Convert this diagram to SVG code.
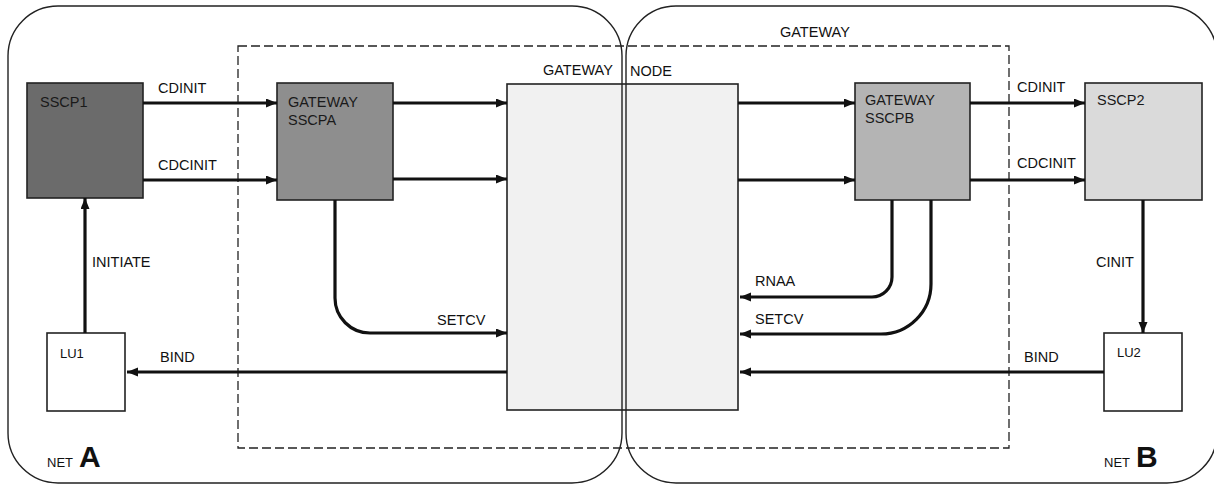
<svg xmlns="http://www.w3.org/2000/svg" width="1214" height="485" viewBox="0 0 1214 485">
<defs>
<style>
text{font-family:"Liberation Sans",Arial,sans-serif;font-size:14.5px;fill:#111}
.lbl{font-size:14.5px}
.inbox{fill:#1a1a1a}
.box{stroke:#222;stroke-width:1.6}
.net{fill:none;stroke:#222;stroke-width:1.4}
.gw{fill:none;stroke:#222;stroke-width:1.3;stroke-dasharray:9 4}
.conn{fill:none;stroke:#111;stroke-width:3.2}
.arr{marker-end:url(#ah)}
</style>
<marker id="ah" markerUnits="userSpaceOnUse" markerWidth="12" markerHeight="10" refX="11" refY="4.5" orient="auto">
<path d="M0,0 L11,4.5 L0,9 z" fill="#111"/>
</marker>
</defs>
<rect width="1214" height="485" fill="#fff"/>

<g id="gateway-frame">
<rect class="gw" x="238" y="46" width="771" height="402"/>
<text x="780" y="37">GATEWAY</text>
</g>

<g id="gateway-node">
<rect class="box" x="507" y="84" width="231" height="326" fill="#f1f1f1"/>
<text x="543" y="75">GATEWAY</text>
<text x="630" y="76">NODE</text>
</g>

<g id="sscp1">
<rect class="box" x="27" y="83" width="116" height="115" fill="#6b6b6b"/>
<text class="inbox" x="40" y="107">SSCP1</text>
</g>
<g id="sscpa">
<rect class="box" x="277" y="83" width="116" height="117" fill="#8e8e8e"/>
<text class="inbox" x="288" y="107">GATEWAY</text>
<text class="inbox" x="288" y="125">SSCPA</text>
</g>
<g id="sscpb">
<rect class="box" x="855" y="83" width="115" height="117" fill="#b4b4b4"/>
<text class="inbox" x="865" y="105">GATEWAY</text>
<text class="inbox" x="865" y="123">SSCPB</text>
</g>
<g id="sscp2">
<rect class="box" x="1085" y="83" width="117" height="117" fill="#dadada"/>
<text class="inbox" x="1097" y="105">SSCP2</text>
</g>
<g id="lu1">
<rect class="box" x="47" y="333" width="78" height="78" fill="#fff"/>
<text x="60" y="358" style="font-size:13px">LU1</text>
</g>
<g id="lu2">
<rect class="box" x="1104" y="333" width="78" height="78" fill="#fff"/>
<text x="1117" y="357" style="font-size:13px">LU2</text>
</g>

<g id="net-a">
<rect class="net" x="8" y="6" width="614" height="477" rx="50" ry="50"/>
<text x="47" y="467" style="font-size:13px">NET</text>
<text x="79" y="467" style="font-size:30px;font-weight:bold">A</text>
</g>
<g id="net-b">
<rect class="net" x="626" y="6" width="591" height="477" rx="50" ry="50"/>
<text x="1104" y="467" style="font-size:13px">NET</text>
<text x="1136" y="467" style="font-size:30px;font-weight:bold">B</text>
</g>

<g id="connectors">
<path class="conn arr" d="M143,103 H277"/>
<path class="conn arr" d="M143,180 H277"/>
<path class="conn arr" d="M393,103 H507"/>
<path class="conn arr" d="M393,179 H507"/>
<path class="conn arr" d="M738,103 H855"/>
<path class="conn arr" d="M738,180 H855"/>
<path class="conn arr" d="M970,103 H1085"/>
<path class="conn arr" d="M970,180 H1085"/>
<path class="conn arr" d="M85,333 V198"/>
<path class="conn arr" d="M1143,200 V333"/>
<path class="conn arr" d="M507,372 H127"/>
<path class="conn arr" d="M1104,372 H740"/>
<path class="conn arr" d="M335,200 V298 A35,35 0 0 0 370,333 H507"/>
<path class="conn arr" d="M892,200 V277 A20,20 0 0 1 872,297 H740"/>
<path class="conn arr" d="M931,200 V284 A50,50 0 0 1 881,334 H740"/>
<text x="158" y="93">CDINIT</text>
<text x="158" y="170">CDCINIT</text>
<text x="1017" y="92">CDINIT</text>
<text x="1017" y="168">CDCINIT</text>
<text x="92" y="267">INITIATE</text>
<text x="1096" y="267">CINIT</text>
<text x="160" y="362">BIND</text>
<text x="1024" y="362">BIND</text>
<text x="437" y="325">SETCV</text>
<text x="755" y="286">RNAA</text>
<text x="755" y="324">SETCV</text>
</g>
</svg>
